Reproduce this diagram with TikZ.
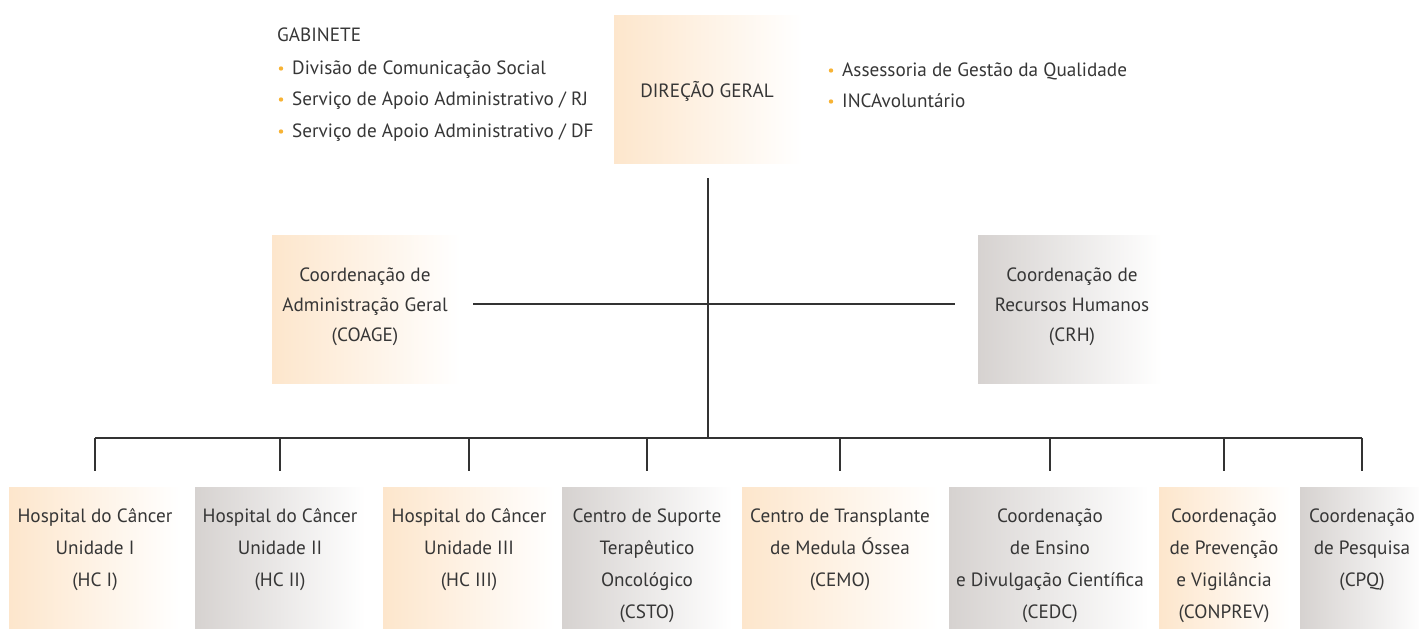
\documentclass[tikz,border=0pt]{standalone}
\usepackage{fontspec}
\setmainfont{PT Sans}
\definecolor{txt}{HTML}{363636}
\definecolor{orng}{HTML}{FDE6CC}
\definecolor{gry}{HTML}{D6D2D0}
\definecolor{bul}{HTML}{F7B334}
\definecolor{ln}{HTML}{333333}
\begin{document}
\begin{tikzpicture}[x=1pt,y=-1pt,
  box/.style={draw=none, inner sep=0, outer sep=0, anchor=north west},
  obox/.style={box, left color=orng, right color=white},
  gbox/.style={box, left color=gry, right color=white},
  lbl/.style={anchor=north, inner sep=0, align=center, text=txt, font=\fontsize{19.2}{32}\selectfont},
  mlbl/.style={anchor=north, inner sep=0, align=center, text=txt, font=\fontsize{19.2}{30}\selectfont},
  item/.style={anchor=base west, inner sep=0, text=txt, font=\fontsize{19.2}{22}\selectfont},
  dot/.style={circle, fill=bul, inner sep=0, minimum size=4.4pt},
  conn/.style={draw=ln, line width=1.2pt}
]
\useasboundingbox (0,0) rectangle (1419,629);

% top
\node[obox, minimum width=188pt, minimum height=148pt] (DG) at (614,15) {};
\node[item, anchor=base] (DGt) at (707,97) {DIREÇÃO GERAL};

\node[item] (gab) at (277,41) {GABINETE};
\node[item] (g1) at (292,74) {Divisão de Comunicação Social};
\node[item] (g2) at (292,105) {Serviço de Apoio Administrativo / RJ};
\node[item] (g3) at (292,137) {Serviço de Apoio Administrativo / DF};
\node[dot] (d1) at (281,68.5) {};
\node[dot] (d2) at (281,99.5) {};
\node[dot] (d3) at (281,131.5) {};

\node[item] (r1) at (842,76) {Assessoria de Gestão da Qualidade};
\node[item] (r2) at (842,107) {INCAvoluntário};
\node[dot] (d4) at (831,70.5) {};
\node[dot] (d5) at (831,101.5) {};

% middle
\node[obox, minimum width=188pt, minimum height=148pt] (COAGE) at (272,235) {};
\node[mlbl] (COAGEt) at (365,260) {\strut Coordenação de\\Administração Geral\\(COAGE)};
\node[gbox, minimum width=184pt, minimum height=148pt] (CRH) at (978,235) {};
\node[mlbl] (CRHt) at (1072,260) {\strut Coordenação de\\Recursos Humanos\\(CRH)};

\coordinate (mid) at (708,304);
\coordinate (bus) at (708,438);

% bottom boxes
\node[obox, minimum width=172pt, minimum height=141pt] (B1) at (9,487) {};
\node[gbox, minimum width=170pt, minimum height=141pt] (B2) at (195,487) {};
\node[obox, minimum width=172pt, minimum height=141pt] (B3) at (383,487) {};
\node[gbox, minimum width=170pt, minimum height=141pt] (B4) at (562,487) {};
\node[obox, minimum width=196pt, minimum height=141pt] (B5) at (742,487) {};
\node[gbox, minimum width=200pt, minimum height=141pt] (B6) at (949,487) {};
\node[obox, minimum width=132pt, minimum height=141pt] (B7) at (1159,487) {};
\node[gbox, minimum width=124pt, minimum height=141pt] (B8) at (1300,487) {};

\node[lbl] (T1) at (95,499.6) {\strut Hospital do Câncer\\Unidade I\\(HC I)};
\node[lbl] (T2) at (280,499.6) {\strut Hospital do Câncer\\Unidade II\\(HC II)};
\node[lbl] (T3) at (469,499.6) {\strut Hospital do Câncer\\Unidade III\\(HC III)};
\node[lbl] (T4) at (647,499.6) {\strut Centro de Suporte\\Terapêutico\\Oncológico\\(CSTO)};
\node[lbl] (T5) at (840,499.6) {\strut Centro de Transplante\\de Medula Óssea\\(CEMO)};
\node[lbl] (T6) at (1050,499.6) {\strut Coordenação\\de Ensino\\e Divulgação Científica\\(CEDC)};
\node[lbl] (T7) at (1224,499.6) {\strut Coordenação\\de Prevenção\\e Vigilância\\(CONPREV)};
\node[lbl] (T8) at (1362,499.6) {\strut Coordenação\\de Pesquisa\\(CPQ)};

% connectors
\draw[conn, shorten <=15pt] (DG.south) -- (DG.south |- bus);
\draw[conn, shorten <=13pt, shorten >=23pt] (COAGE.east |- mid) -- (CRH.west |- mid);
\draw[conn] (T1 |- bus) -- (T8 |- bus);
\foreach \i in {1,...,8}{
  \draw[conn, shorten >=16pt] (T\i |- bus) -- (T\i |- B\i.north);
}
\end{tikzpicture}
\end{document}
